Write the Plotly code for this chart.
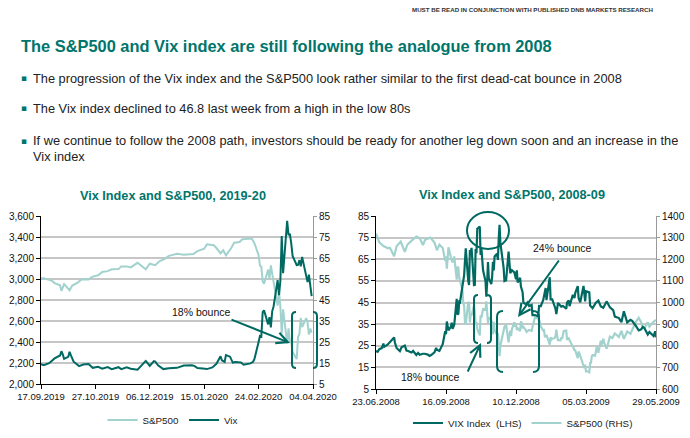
import plotly.graph_objects as go

W, H = 690, 438
DARK = "#006a62"
LIGHT = "#a2d2ce"
TEAL = "#00756b"
GRID = "#c6c6c6"
FONT = "Liberation Sans, Arial, sans-serif"

# ---------------- data: 2019-20 ----------------
spx19_dates = ["2019-09-17","2019-09-19","2019-09-23","2019-09-25","2019-09-27","2019-10-01","2019-10-02","2019-10-04",
    "2019-10-08","2019-10-10","2019-10-14","2019-10-17","2019-10-22","2019-10-25","2019-10-29","2019-11-01","2019-11-05",
    "2019-11-08","2019-11-13","2019-11-15","2019-11-19","2019-11-22","2019-11-27","2019-12-03","2019-12-06","2019-12-10",
    "2019-12-13","2019-12-17","2019-12-20","2019-12-26","2019-12-31","2020-01-03","2020-01-07","2020-01-10","2020-01-15",
    "2020-01-17","2020-01-22","2020-01-24","2020-01-27","2020-01-29","2020-01-31","2020-02-04","2020-02-06","2020-02-10",
    "2020-02-12","2020-02-14","2020-02-19","2020-02-21","2020-02-24","2020-02-25","2020-02-26","2020-02-27","2020-02-28",
    "2020-03-02","2020-03-03","2020-03-04","2020-03-05","2020-03-06","2020-03-09","2020-03-10","2020-03-11","2020-03-12",
    "2020-03-13","2020-03-16","2020-03-17","2020-03-18","2020-03-19","2020-03-20","2020-03-23","2020-03-24","2020-03-25",
    "2020-03-26","2020-03-27","2020-03-30","2020-03-31","2020-04-01","2020-04-02","2020-04-03"]
spx19 = [3006,3006,2992,2984,2961,2940,2887,2952,2893,2938,2966,2998,2996,3023,3036,3067,3075,3093,3094,3120,3120,3110,
    3154,3093,3146,3132,3169,3192,3221,3240,3231,3235,3237,3265,3289,3330,3321,3295,3244,3273,3225,3298,3345,3352,3379,
    3380,3386,3338,3226,3128,3116,2979,2954,3090,3003,3130,3024,2972,2747,2882,2741,2481,2711,2386,2529,2398,2409,2305,
    2237,2447,2476,2630,2541,2627,2585,2470,2527,2489]

vix19_dates = ["2019-09-17","2019-09-19","2019-09-23","2019-09-25","2019-09-27","2019-10-01","2019-10-02","2019-10-03",
    "2019-10-04","2019-10-07","2019-10-08","2019-10-09","2019-10-11","2019-10-15","2019-10-18","2019-10-22","2019-10-25",
    "2019-10-29","2019-11-01","2019-11-05","2019-11-08","2019-11-13","2019-11-15","2019-11-19","2019-11-22","2019-11-27",
    "2019-12-03","2019-12-05","2019-12-06","2019-12-09","2019-12-10","2019-12-12","2019-12-16","2019-12-20","2019-12-26",
    "2019-12-31","2020-01-03","2020-01-06","2020-01-08","2020-01-10","2020-01-14","2020-01-17","2020-01-21","2020-01-24",
    "2020-01-27","2020-01-28","2020-01-30","2020-01-31","2020-02-03","2020-02-05","2020-02-07","2020-02-11","2020-02-13",
    "2020-02-18","2020-02-20","2020-02-21","2020-02-24","2020-02-25","2020-02-26","2020-02-27","2020-02-28","2020-03-02",
    "2020-03-03","2020-03-04","2020-03-05","2020-03-06","2020-03-09","2020-03-10","2020-03-11","2020-03-12","2020-03-13",
    "2020-03-16","2020-03-17","2020-03-18","2020-03-19","2020-03-20","2020-03-23","2020-03-24","2020-03-25","2020-03-26",
    "2020-03-27","2020-03-30","2020-03-31","2020-04-01","2020-04-02","2020-04-03"]
vix19 = [14.4,14.0,14.9,16.0,17.2,18.6,20.6,19.1,17.0,17.9,20.3,18.6,15.6,13.5,14.3,14.5,12.7,13.2,12.3,13.1,12.1,13.0,
    12.1,12.9,12.3,11.8,16.0,14.5,13.6,15.9,15.7,13.9,12.1,12.5,12.7,13.8,14.0,13.9,13.5,12.6,12.4,12.1,12.9,14.6,18.2,
    16.3,15.5,18.8,18.0,15.2,15.5,15.2,14.2,14.8,15.6,17.1,25.0,27.9,27.6,39.2,40.1,33.4,36.8,32.0,39.6,41.9,54.5,47.3,
    53.9,75.5,57.8,82.7,75.9,76.5,72.0,66.0,61.6,61.7,64.0,61.0,65.5,57.1,53.5,57.1,50.9,46.8]

x19_ticks = ["2019-09-17","2019-10-27","2019-12-06","2020-01-15","2020-02-24","2020-04-04"]

# ---------------- data: 2008-09 ----------------
vix08_dates = ["2008-06-23","2008-06-25","2008-06-27","2008-06-30","2008-07-02","2008-07-03","2008-07-07","2008-07-09",
    "2008-07-11","2008-07-14","2008-07-15","2008-07-16","2008-07-18","2008-07-22","2008-07-24","2008-07-28","2008-07-30",
    "2008-08-01","2008-08-05","2008-08-07","2008-08-11","2008-08-13","2008-08-15","2008-08-19","2008-08-21","2008-08-25",
    "2008-08-27","2008-08-29","2008-09-02","2008-09-04","2008-09-05","2008-09-08","2008-09-10","2008-09-12","2008-09-15",
    "2008-09-16","2008-09-17","2008-09-18","2008-09-19","2008-09-22","2008-09-23","2008-09-24","2008-09-26","2008-09-29",
    "2008-09-30","2008-10-01","2008-10-02","2008-10-03","2008-10-06","2008-10-07","2008-10-08","2008-10-09","2008-10-10",
    "2008-10-13","2008-10-14","2008-10-15","2008-10-16","2008-10-17","2008-10-20","2008-10-21","2008-10-22","2008-10-23",
    "2008-10-24","2008-10-27","2008-10-28","2008-10-29","2008-10-30","2008-10-31","2008-11-03","2008-11-04","2008-11-05",
    "2008-11-06","2008-11-07","2008-11-10","2008-11-11","2008-11-12","2008-11-13","2008-11-14","2008-11-17","2008-11-18",
    "2008-11-19","2008-11-20","2008-11-21","2008-11-24","2008-11-25","2008-11-26","2008-11-28","2008-12-01","2008-12-02",
    "2008-12-03","2008-12-05","2008-12-08","2008-12-10","2008-12-11","2008-12-12","2008-12-15","2008-12-16","2008-12-18",
    "2008-12-19","2008-12-22","2008-12-24","2008-12-26","2008-12-29","2008-12-30","2009-01-02","2009-01-06","2009-01-07",
    "2009-01-09","2009-01-12","2009-01-14","2009-01-15","2009-01-16","2009-01-20","2009-01-21","2009-01-23","2009-01-27",
    "2009-01-28","2009-01-30","2009-02-03","2009-02-05","2009-02-09","2009-02-10","2009-02-12","2009-02-13","2009-02-17",
    "2009-02-19","2009-02-20","2009-02-23","2009-02-24","2009-02-26","2009-03-02","2009-03-04","2009-03-05","2009-03-09",
    "2009-03-10","2009-03-13","2009-03-17","2009-03-20","2009-03-23","2009-03-26","2009-03-30","2009-04-01","2009-04-03",
    "2009-04-07","2009-04-09","2009-04-14","2009-04-17","2009-04-20","2009-04-22","2009-04-24","2009-04-28","2009-04-30",
    "2009-05-04","2009-05-06","2009-05-08","2009-05-11","2009-05-13","2009-05-15","2009-05-19","2009-05-21","2009-05-26",
    "2009-05-28","2009-05-29"]
vix08 = [22.6,22.2,23.4,23.9,26.0,24.5,25.5,26.4,27.5,28.5,28.8,26.4,24.0,22.5,24.3,25.1,22.8,22.6,21.9,22.6,20.7,21.7,
    20.8,21.3,21.3,20.9,20.3,20.7,21.9,24.0,23.1,22.6,24.0,25.7,31.7,30.3,36.2,33.1,32.1,33.9,35.7,32.8,34.7,46.7,39.4,
    39.8,45.3,45.1,52.1,53.7,57.5,63.9,70.0,55.0,53.1,69.3,67.6,70.3,53.0,53.1,69.7,67.8,79.1,80.1,67.0,70.0,62.9,59.9,
    54.8,47.7,54.6,63.7,56.1,53.5,56.8,63.8,59.8,66.3,67.6,64.7,74.3,80.9,72.7,64.7,60.9,54.9,55.3,68.5,62.7,58.6,59.9,
    58.9,55.7,59.9,54.3,56.4,52.4,49.8,44.9,44.2,45.0,43.4,43.9,39.2,39.2,38.6,43.4,43.3,46.1,51.0,51.7,46.1,56.7,46.4,
    46.4,42.0,39.6,44.8,43.1,43.4,42.1,45.0,46.0,43.3,48.5,47.1,49.5,52.6,47.1,45.1,52.7,45.5,50.2,49.7,43.6,42.4,44.9,
    45.9,43.2,42.6,45.5,44.2,42.8,41.5,38.5,37.8,35.9,40.9,38.1,35.8,37.0,36.5,34.5,33.0,32.1,32.6,33.7,33.1,30.2,31.4,
    29.5,31.7,28.9]

spx08_dates = ["2008-06-23","2008-06-27","2008-07-02","2008-07-07","2008-07-10","2008-07-15","2008-07-18","2008-07-23",
    "2008-07-28","2008-07-31","2008-08-05","2008-08-08","2008-08-11","2008-08-15","2008-08-19","2008-08-22","2008-08-28",
    "2008-09-02","2008-09-05","2008-09-08","2008-09-12","2008-09-15","2008-09-16","2008-09-17","2008-09-18","2008-09-19",
    "2008-09-22","2008-09-24","2008-09-26","2008-09-29","2008-09-30","2008-10-01","2008-10-02","2008-10-03","2008-10-06",
    "2008-10-07","2008-10-08","2008-10-09","2008-10-10","2008-10-13","2008-10-14","2008-10-15","2008-10-16","2008-10-17",
    "2008-10-20","2008-10-21","2008-10-22","2008-10-23","2008-10-24","2008-10-27","2008-10-28","2008-10-29","2008-10-30",
    "2008-10-31","2008-11-03","2008-11-04","2008-11-05","2008-11-06","2008-11-07","2008-11-10","2008-11-11","2008-11-12",
    "2008-11-13","2008-11-14","2008-11-17","2008-11-18","2008-11-19","2008-11-20","2008-11-21","2008-11-24","2008-11-25",
    "2008-11-26","2008-11-28","2008-12-01","2008-12-02","2008-12-03","2008-12-04","2008-12-05","2008-12-08","2008-12-09",
    "2008-12-10","2008-12-11","2008-12-12","2008-12-15","2008-12-16","2008-12-17","2008-12-18","2008-12-19","2008-12-22",
    "2008-12-23","2008-12-24","2008-12-26","2008-12-29","2008-12-30","2008-12-31","2009-01-02","2009-01-05","2009-01-06",
    "2009-01-07","2009-01-08","2009-01-09","2009-01-12","2009-01-13","2009-01-14","2009-01-15","2009-01-16","2009-01-20",
    "2009-01-21","2009-01-22","2009-01-23","2009-01-26","2009-01-27","2009-01-28","2009-01-29","2009-01-30","2009-02-02",
    "2009-02-03","2009-02-04","2009-02-05","2009-02-06","2009-02-09","2009-02-10","2009-02-11","2009-02-12","2009-02-13",
    "2009-02-17","2009-02-18","2009-02-19","2009-02-20","2009-02-23","2009-02-24","2009-02-25","2009-02-26","2009-02-27",
    "2009-03-02","2009-03-03","2009-03-04","2009-03-05","2009-03-06","2009-03-09","2009-03-10","2009-03-11","2009-03-12",
    "2009-03-13","2009-03-16","2009-03-17","2009-03-18","2009-03-19","2009-03-20","2009-03-23","2009-03-24","2009-03-25",
    "2009-03-26","2009-03-27","2009-03-30","2009-03-31","2009-04-01","2009-04-02","2009-04-03","2009-04-06","2009-04-09",
    "2009-04-14","2009-04-17","2009-04-20","2009-04-24","2009-04-28","2009-04-30","2009-05-04","2009-05-08","2009-05-11",
    "2009-05-13","2009-05-15","2009-05-19","2009-05-21","2009-05-26","2009-05-29"]
spx08 = [1318,1278,1261,1252,1253,1214,1260,1282,1234,1267,1285,1296,1305,1298,1266,1292,1300,1277,1242,1267,1252,1193,
    1213,1156,1206,1255,1208,1185,1213,1106,1166,1161,1115,1099,1057,996,985,910,899,1003,998,908,946,940,986,955,896,
    909,877,848,941,930,954,969,966,1005,953,905,931,920,898,853,911,873,850,859,807,752,800,851,857,888,896,816,848,870,
    845,876,909,888,899,873,880,868,913,904,885,887,871,864,868,873,869,890,903,931,927,935,907,910,890,871,872,843,844,
    850,805,840,828,832,836,845,874,845,826,825,838,832,845,868,870,827,833,835,826,789,788,780,778,743,773,765,753,735,
    700,696,713,682,683,677,720,721,751,757,753,778,795,785,768,823,806,813,832,816,787,798,811,834,842,836,857,841,869,
    832,866,855,873,907,929,909,884,882,908,888,911,919]

x08_ticks = ["2008-06-23","2008-09-16","2008-12-10","2009-03-05","2009-05-29"]

# ---------------- helpers (pixel -> paper) ----------------
def px(x): return x / W
def py(y): return 1 - y / H
def P(x, y): return f"{px(x):.5f},{py(y):.5f}"

def lbr(x, y0, y1, r=4):
    return f"M {P(x+r, y0)} Q {P(x, y0)} {P(x, y0+r)} L {P(x, y1-r)} Q {P(x, y1)} {P(x+r, y1)}"

def rbr(x, y0, y1, r=4):
    return f"M {P(x-r, y0)} Q {P(x, y0)} {P(x, y0+r)} L {P(x, y1-r)} Q {P(x, y1)} {P(x-r, y1)}"

fig = go.Figure()
fig.add_trace(go.Scatter(x=spx19_dates, y=spx19, name="S&P500", mode="lines",
                         line=dict(color=LIGHT, width=2), xaxis="x", yaxis="y", legend="legend"))
fig.add_trace(go.Scatter(x=vix19_dates, y=vix19, name="Vix", mode="lines",
                         line=dict(color=DARK, width=2), xaxis="x", yaxis="y2", legend="legend"))
fig.add_trace(go.Scatter(x=vix08_dates, y=vix08, name="VIX Index  (LHS)", mode="lines",
                         line=dict(color=DARK, width=2.2), xaxis="x2", yaxis="y4", legend="legend2"))
fig.add_trace(go.Scatter(x=spx08_dates, y=spx08, name="S&P500 (RHS)", mode="lines",
                         line=dict(color=LIGHT, width=2.2), xaxis="x2", yaxis="y3", legend="legend2"))

xtickfont = dict(family=FONT, size=9.5, color="#111")
ytickfont = dict(family=FONT, size=10, color="#111")
common_x = dict(type="date", showgrid=False, showline=True, linecolor="#000", linewidth=1,
                ticks="outside", ticklen=4, tickcolor="#000", tickformat="%d.%m.%Y", tickangle=0,
                tickfont=xtickfont, zeroline=False, fixedrange=True, automargin=False)
left_y = dict(showline=True, linecolor="#000", linewidth=1, ticks="outside", ticklen=4, tickcolor="#000",
              showgrid=True, gridcolor=GRID, gridwidth=2, zeroline=False, tickfont=ytickfont, automargin=False)
right_y = dict(showline=True, linecolor="#999", linewidth=1, ticks="outside", ticklen=3, tickcolor="#999",
               zeroline=False, tickfont=ytickfont, automargin=False)

fig.update_layout(
    width=W, height=H, margin=dict(l=0, r=0, t=0, b=0, pad=0, autoexpand=False),
    paper_bgcolor="white", plot_bgcolor="white",
    font=dict(family=FONT, color="#222"),
    xaxis=dict(common_x, domain=[px(41), px(313)], anchor="y",
               range=["2019-09-17", "2020-04-04"], tickvals=x19_ticks),
    yaxis=dict(left_y, domain=[py(384), py(216)], anchor="x", range=[2000, 3600],
               dtick=200, tick0=2000, tickformat=",d"),
    yaxis2=dict(right_y, overlaying="y", side="right", anchor="x", range=[5, 85],
                dtick=10, tick0=5, showgrid=False),
    xaxis2=dict(common_x, domain=[px(376), px(656)], anchor="y3",
                range=["2008-06-23", "2009-05-29"], tickvals=x08_ticks),
    yaxis3=dict(right_y, domain=[py(389), py(216)], anchor="x2", side="right", range=[600, 1400],
                dtick=100, tick0=600, showgrid=True, gridcolor=GRID, gridwidth=2),
    yaxis4=dict(left_y, overlaying="y3", side="left", anchor="x2", range=[5, 85],
                dtick=10, tick0=5, showgrid=False),
    legend=dict(orientation="h", x=px(173), xanchor="center", y=py(420), yanchor="middle",
                font=dict(family=FONT, size=9.8, color="#222"), bgcolor="rgba(0,0,0,0)",
                itemwidth=30, tracegroupgap=0),
    legend2=dict(orientation="h", x=px(523), xanchor="center", y=py(423), yanchor="middle",
                 font=dict(family=FONT, size=9.8, color="#222"), bgcolor="rgba(0,0,0,0)",
                 itemwidth=30, tracegroupgap=0),
    showlegend=True,
)

ann = []
ann.append(dict(text="<b>MUST BE READ IN CONJUNCTION WITH PUBLISHED DNB MARKETS RESEARCH</b>",
                x=px(656), y=py(10), xanchor="right", yanchor="middle", showarrow=False,
                font=dict(family=FONT, size=6.2, color="#333")))
ann.append(dict(text="<b>The S&P500 and Vix index are still following the analogue from 2008</b>",
                x=px(19), y=py(46), xanchor="left", yanchor="middle", showarrow=False,
                font=dict(family=FONT, size=16.4, color=TEAL)))
bullets = [
    (78, "The progression of the Vix index and the S&P500 look rather similar to the first dead-cat bounce in 2008"),
    (108, "The Vix index declined to 46.8 last week from a high in the low 80s"),
    (141, "If we continue to follow the 2008 path, investors should be ready for another leg down soon and an increase in the"),
    (157, "Vix index"),
]
for i, (yy, t) in enumerate(bullets):
    if i != 3:
        ann.append(dict(text="▪", x=px(19), y=py(yy), xanchor="left", yanchor="middle", showarrow=False,
                        font=dict(family="DejaVu Sans", size=9, color=TEAL)))
    ann.append(dict(text=t, x=px(31), y=py(yy), xanchor="left", yanchor="middle", showarrow=False,
                    font=dict(family=FONT, size=12.8, color="#222")))

ann.append(dict(text="<b>Vix Index and S&P500, 2019-20</b>", x=px(173), y=py(196), xanchor="center",
                yanchor="middle", showarrow=False, font=dict(family=FONT, size=12.7, color=TEAL)))
ann.append(dict(text="<b>Vix Index and S&P500, 2008-09</b>", x=px(512), y=py(195), xanchor="center",
                yanchor="middle", showarrow=False, font=dict(family=FONT, size=12.7, color=TEAL)))

# callout texts
ann.append(dict(text="18% bounce", x=px(201), y=py(312), xanchor="center", yanchor="middle",
                showarrow=False, font=dict(family=FONT, size=10.5, color="#111")))
ann.append(dict(text="24% bounce", x=px(562), y=py(248), xanchor="center", yanchor="middle",
                showarrow=False, font=dict(family=FONT, size=10.5, color="#111")))
ann.append(dict(text="18% bounce", x=px(430), y=py(377), xanchor="center", yanchor="middle",
                showarrow=False, font=dict(family=FONT, size=10.5, color="#111")))

# arrows
def arrow(hx, hy, tx, ty):
    return dict(text="", x=px(hx), y=py(hy), xref="paper", yref="paper", ax=tx - hx, ay=ty - hy,
                showarrow=True, arrowhead=5, arrowsize=1.1, arrowwidth=2, arrowcolor=DARK, standoff=0)
ann.append(arrow(290, 343, 230, 319))
ann.append(arrow(518, 317, 560, 259))
ann.append(arrow(481, 343, 467, 373))

for a in ann:
    a.setdefault("xref", "paper")
    a.setdefault("yref", "paper")
fig.update_layout(annotations=ann)

shp_line = dict(color=DARK, width=2)
shapes = [
    dict(type="path", path=lbr(292, 312, 368), xref="paper", yref="paper", line=shp_line),
    dict(type="path", path=rbr(317, 312, 368), xref="paper", yref="paper", line=shp_line),
    dict(type="path", path=lbr(474, 295, 343), xref="paper", yref="paper", line=shp_line),
    dict(type="path", path=rbr(491, 295, 343), xref="paper", yref="paper", line=shp_line),
    dict(type="path", path=lbr(497, 311, 372, r=6), xref="paper", yref="paper", line=shp_line),
    dict(type="path", path=rbr(539, 311, 372, r=6), xref="paper", yref="paper", line=shp_line),
    dict(type="circle", x0=px(467), x1=px(509), y0=py(249), y1=py(212), xref="paper", yref="paper",
         line=shp_line),
]
fig.update_layout(shapes=shapes)

fig.write_html("out.html", config={"displayModeBar": False},
               post_script="document.body.style.margin='0';document.body.style.padding='0';")
